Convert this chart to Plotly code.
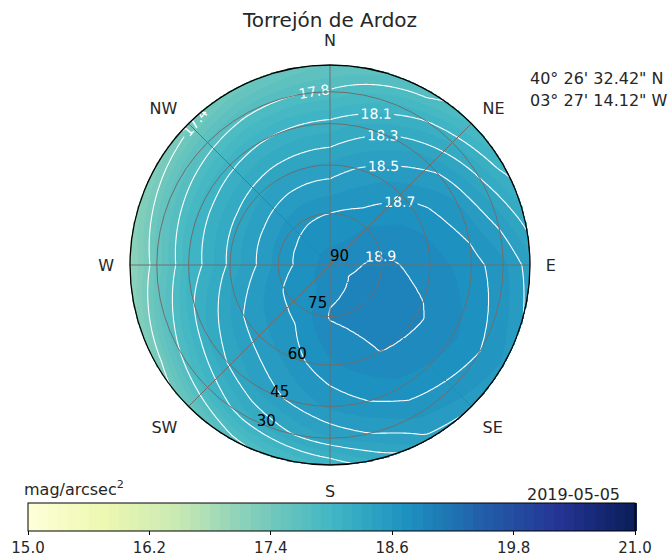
import numpy as np
import plotly.graph_objects as go

# ---------------- data ----------------
TITLE = "Torrejón de Ardoz"
DATE_TEXT = "2019-05-05"
LAT_TEXT = "40° 26' 32.42\" N"
LON_TEXT = "03° 27' 14.12\" W"
UNITS_TEXT = "mag/arcsec<sup>2</sup>"

AZIMUTHS = [0, 30, 60, 90, 120, 150, 180, 210, 240, 270, 300, 330]
ALTITUDES = [90, 75, 60, 45, 30, 15, 0]

MAG_ALT90 = [18.85, 18.85, 18.85, 18.85, 18.85, 18.85, 18.85, 18.85, 18.85, 18.85, 18.85, 18.85]
MAG_ALT75 = [18.70, 18.75, 18.86, 18.93, 18.97, 18.94, 18.91, 18.75, 18.71, 18.64, 18.65, 18.68]
MAG_ALT60 = [18.42, 18.58, 18.76, 18.85, 18.92, 18.90, 18.78, 18.61, 18.50, 18.33, 18.35, 18.40]
MAG_ALT45 = [18.14, 18.35, 18.58, 18.75, 18.82, 18.77, 18.62, 18.43, 18.20, 17.99, 18.03, 18.09]
MAG_ALT30 = [17.82, 18.07, 18.30, 18.63, 18.70, 18.62, 18.40, 18.16, 17.80, 17.52, 17.66, 17.77]
MAG_ALT15 = [17.65, 17.80, 18.10, 18.49, 18.62, 18.52, 18.10, 17.85, 17.42, 17.17, 17.35, 17.52]
MAG_ALT0 = [17.60, 17.75, 18.05, 18.42, 18.58, 18.45, 18.00, 17.75, 17.30, 17.05, 17.25, 17.45]

CONTOUR_LEVELS = [17.4, 17.8, 18.1, 18.3, 18.5, 18.7, 18.9]
COMPASS_ANGLES = [0, 45, 90, 135, 180, 225, 270, 315]
COMPASS_LABELS = ["N", "NE", "E", "SE", "S", "SW", "W", "NW"]
RADIAL_TICK_ALTS = [90, 75, 60, 45, 30]
RADIAL_LABEL_AZIMUTH = 205
RADIAL_LABEL_POS = ["top right", "top right", "middle right", "middle right", "middle right"]
CBAR_TICKS = [15.0, 16.2, 17.4, 18.6, 19.8, 21.0]
CMIN, CMAX = 15.0, 21.0

YLGNBU = ["#ffffd9", "#edf8b1", "#c7e9b4", "#7fcdbb", "#41b6c4",
          "#1d91c0", "#225ea8", "#253494", "#081d58"]
COLORSCALE = [[i / (len(YLGNBU) - 1), c] for i, c in enumerate(YLGNBU)]

W, H = 671, 557
CX, CY, RAD = 330, 265, 200  # polar placement in pixels
DOM_X = [(CX - RAD) / W, (CX + RAD) / W]
DOM_Y = [(H - CY - RAD) / H, (H - CY + RAD) / H]
TXT = "#262626"


def sky_grid(n):
    """Map the (azimuth, altitude) table onto a cartesian grid (r = cos(alt))."""
    az = np.array(AZIMUTHS, float)
    rr = np.cos(np.radians(np.array(ALTITUDES, float)))
    M = np.array([MAG_ALT90, MAG_ALT75, MAG_ALT60, MAG_ALT45,
                  MAG_ALT30, MAG_ALT15, MAG_ALT0], float)
    xs = np.linspace(-1, 1, n)
    X, Y = np.meshgrid(xs, xs)
    R = np.hypot(X, Y)
    A = np.degrees(np.arctan2(X, Y)) % 360
    step = az[1] - az[0]
    naz = len(az)
    i0 = np.floor(A / step).astype(int) % naz
    i1 = (i0 + 1) % naz
    fa = (A - i0 * step) / step
    Rc = np.clip(R, 0, 1)
    j1 = np.clip(np.searchsorted(rr, Rc, side="right"), 1, len(rr) - 1)
    j0 = j1 - 1
    fr = np.clip((Rc - rr[j0]) / (rr[j1] - rr[j0]), 0, 1)
    v = (M[j0, i0] * (1 - fa) + M[j0, i1] * fa) * (1 - fr) + \
        (M[j1, i0] * (1 - fa) + M[j1, i1] * fa) * fr
    v = np.round(v, 3)
    v[R > 1.004] = np.nan
    return xs, v


radial_r = list(np.cos(np.radians(RADIAL_TICK_ALTS)))

fig = go.Figure()

xf, zf = sky_grid(301)
fig.add_trace(go.Contour(
    x=xf, y=xf, z=zf, zmin=CMIN, zmax=CMAX, zauto=False,
    colorscale=COLORSCALE, connectgaps=False, hoverinfo="skip",
    contours=dict(start=CMIN, end=CMAX, size=0.1, coloring="fill", showlines=False),
    line=dict(width=0),
    colorbar=dict(
        orientation="h", x=(28 + 635) / 2 / W, xanchor="center",
        y=(H - 503) / H, yanchor="top", yref="paper",
        thickness=28, thicknessmode="pixels", len=607, lenmode="pixels",
        xpad=0, ypad=0, outlinecolor="black", outlinewidth=1,
        tickmode="array", tickvals=CBAR_TICKS,
        ticktext=[f"{t:.1f}" for t in CBAR_TICKS],
        ticks="outside", ticklen=4, tickcolor="black",
        tickfont=dict(size=15, color=TXT, family="DejaVu Sans"),
    ),
))

xl, zl = sky_grid(201)
for lev in CONTOUR_LEVELS:
    fig.add_trace(go.Contour(
        x=xl, y=xl, z=zl, showscale=False, connectgaps=False, hoverinfo="skip",
        colorscale=[[0, "white"], [1, "white"]],
        contours=dict(start=lev, end=lev, size=0.1, coloring="lines",
                      showlabels=True,
                      labelfont=dict(size=14, color="white", family="DejaVu Sans"),
                      labelformat=".1f"),
        line=dict(width=1.1, color="white"),
    ))

# altitude labels placed through the polar scales
fig.add_trace(go.Scatterpolar(
    r=radial_r, theta=[RADIAL_LABEL_AZIMUTH] * len(radial_r),
    text=[str(a) for a in RADIAL_TICK_ALTS], mode="text",
    textposition=RADIAL_LABEL_POS,
    textfont=dict(size=15, color="black", family="DejaVu Sans"),
    showlegend=False, hoverinfo="skip",
))

fig.update_layout(
    width=W, height=H,
    margin=dict(l=0, r=0, t=0, b=0, autoexpand=False),
    paper_bgcolor="white", plot_bgcolor="white",
    font=dict(family="DejaVu Sans", color=TXT),
    showlegend=False,
    xaxis=dict(domain=DOM_X, range=[-1, 1], visible=False, fixedrange=True),
    yaxis=dict(domain=DOM_Y, range=[-1, 1], visible=False, fixedrange=True),
    polar=dict(
        domain=dict(x=DOM_X, y=DOM_Y),
        bgcolor="rgba(0,0,0,0)",
        angularaxis=dict(
            rotation=90, direction="clockwise",
            tickmode="array", tickvals=COMPASS_ANGLES, ticktext=COMPASS_LABELS,
            showline=True, linecolor="black", linewidth=1.3,
            showgrid=True, gridcolor="#6e6e6e", gridwidth=1,
            ticks="outside", ticklen=12, tickcolor="rgba(0,0,0,0)",
            tickfont=dict(size=16, color=TXT, family="DejaVu Sans"),
        ),
        radialaxis=dict(
            range=[0, 1], tickmode="array", tickvals=radial_r,
            showticklabels=False, showline=False, ticks="",
            showgrid=True, gridcolor="#6e6e6e", gridwidth=1,
        ),
    ),
    title=dict(text=TITLE, x=CX / W, xanchor="center", xref="paper",
               y=1 - 20 / H, yanchor="middle", yref="container",
               font=dict(size=20, color=TXT, family="DejaVu Sans")),
    annotations=[
        dict(text=LAT_TEXT, x=528 / W, y=1 - 78 / H, xref="paper", yref="paper",
             xanchor="left", yanchor="middle", showarrow=False,
             font=dict(size=16, color=TXT)),
        dict(text=LON_TEXT, x=528 / W, y=1 - 100 / H, xref="paper", yref="paper",
             xanchor="left", yanchor="middle", showarrow=False,
             font=dict(size=16, color=TXT)),
        dict(text=UNITS_TEXT, x=22 / W, y=1 - 489 / H, xref="paper", yref="paper",
             xanchor="left", yanchor="middle", showarrow=False,
             font=dict(size=16, color=TXT)),
        dict(text=DATE_TEXT, x=622 / W, y=1 - 494 / H, xref="paper", yref="paper",
             xanchor="right", yanchor="middle", showarrow=False,
             font=dict(size=16, color=TXT)),
    ],
)

fig.write_html("out.html", config={"displayModeBar": False},
               post_script="document.body.style.margin='0px';")
